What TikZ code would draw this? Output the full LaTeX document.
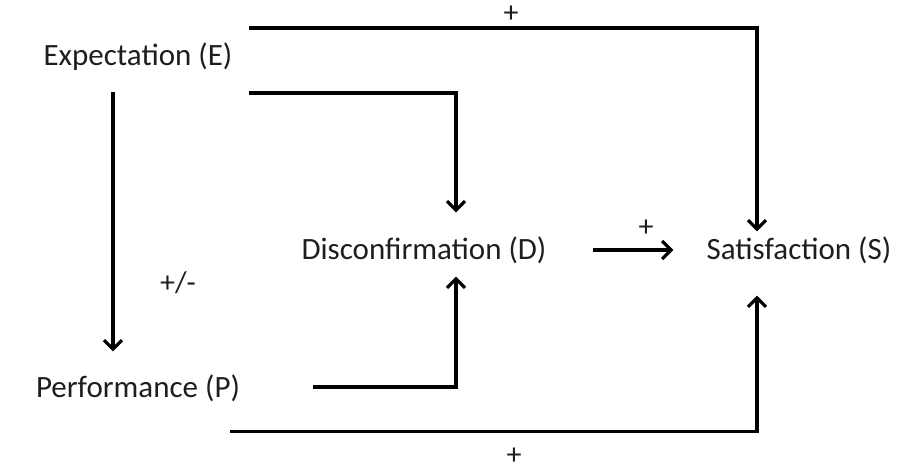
\documentclass[tikz,border=0pt]{standalone}
\usepackage{fontspec}
\setmainfont{Carlito}
\usetikzlibrary{arrows.meta}
\definecolor{LabelGray}{RGB}{30, 30, 30}

\begin{document}
\begin{tikzpicture}[x=1pt, y=1pt,
        factor/.style={inner sep=0pt, text=LabelGray, font=\fontsize{31}{36}\selectfont},
        sign/.style={inner sep=0pt, text=LabelGray, font=\fontsize{30}{34}\selectfont},
        arrow/.style={-{Straight Barb[length=9pt, width=18pt]}, line width=3.2pt}]

        \useasboundingbox (0, 0) rectangle (898, 472);

        % Factors of the model
        \node[factor] (E) at (138, 415) {Expectation (E)};
        \node[factor] (P) at (138, 84) {Performance (P)};
        \node[factor] (D) at (424, 222) {Disconfirmation (D)};
        \node[factor] (S) at (799, 222) {Satisfaction (S)};

        % Signs on the paths
        \node[sign] (topsign) at (511, 458) {+};
        \node[sign] (midsign) at (646, 244) {+};
        \node[sign] (pmsign) at (178, 189) {+/-};
        \node[sign] (botsign) at (514, 16) {+};

        % Paths
        \draw[arrow] ([xshift=16pt, yshift=29pt]E.east) -| ([xshift=-42pt, yshift=5pt]S.north);
        \draw[arrow] ([xshift=16pt, yshift=-36pt]E.east) -| ([xshift=32pt, yshift=24pt]D.north);
        \draw[arrow] ([xshift=-25pt, yshift=-21pt]E.south) -- ([xshift=-25pt, yshift=23pt]P.north);
        \draw[arrow] ([xshift=73pt, yshift=1pt]P.east) -| ([xshift=32pt, yshift=-13pt]D.south);
        \draw[arrow] ([xshift=46pt]D.east) -- ([xshift=-33pt]S.west);
        \draw[arrow] ([xshift=-10pt, yshift=-30pt]P.south east) -| ([xshift=-42pt, yshift=-32pt]S.south);
    \end{tikzpicture}
\end{document}
